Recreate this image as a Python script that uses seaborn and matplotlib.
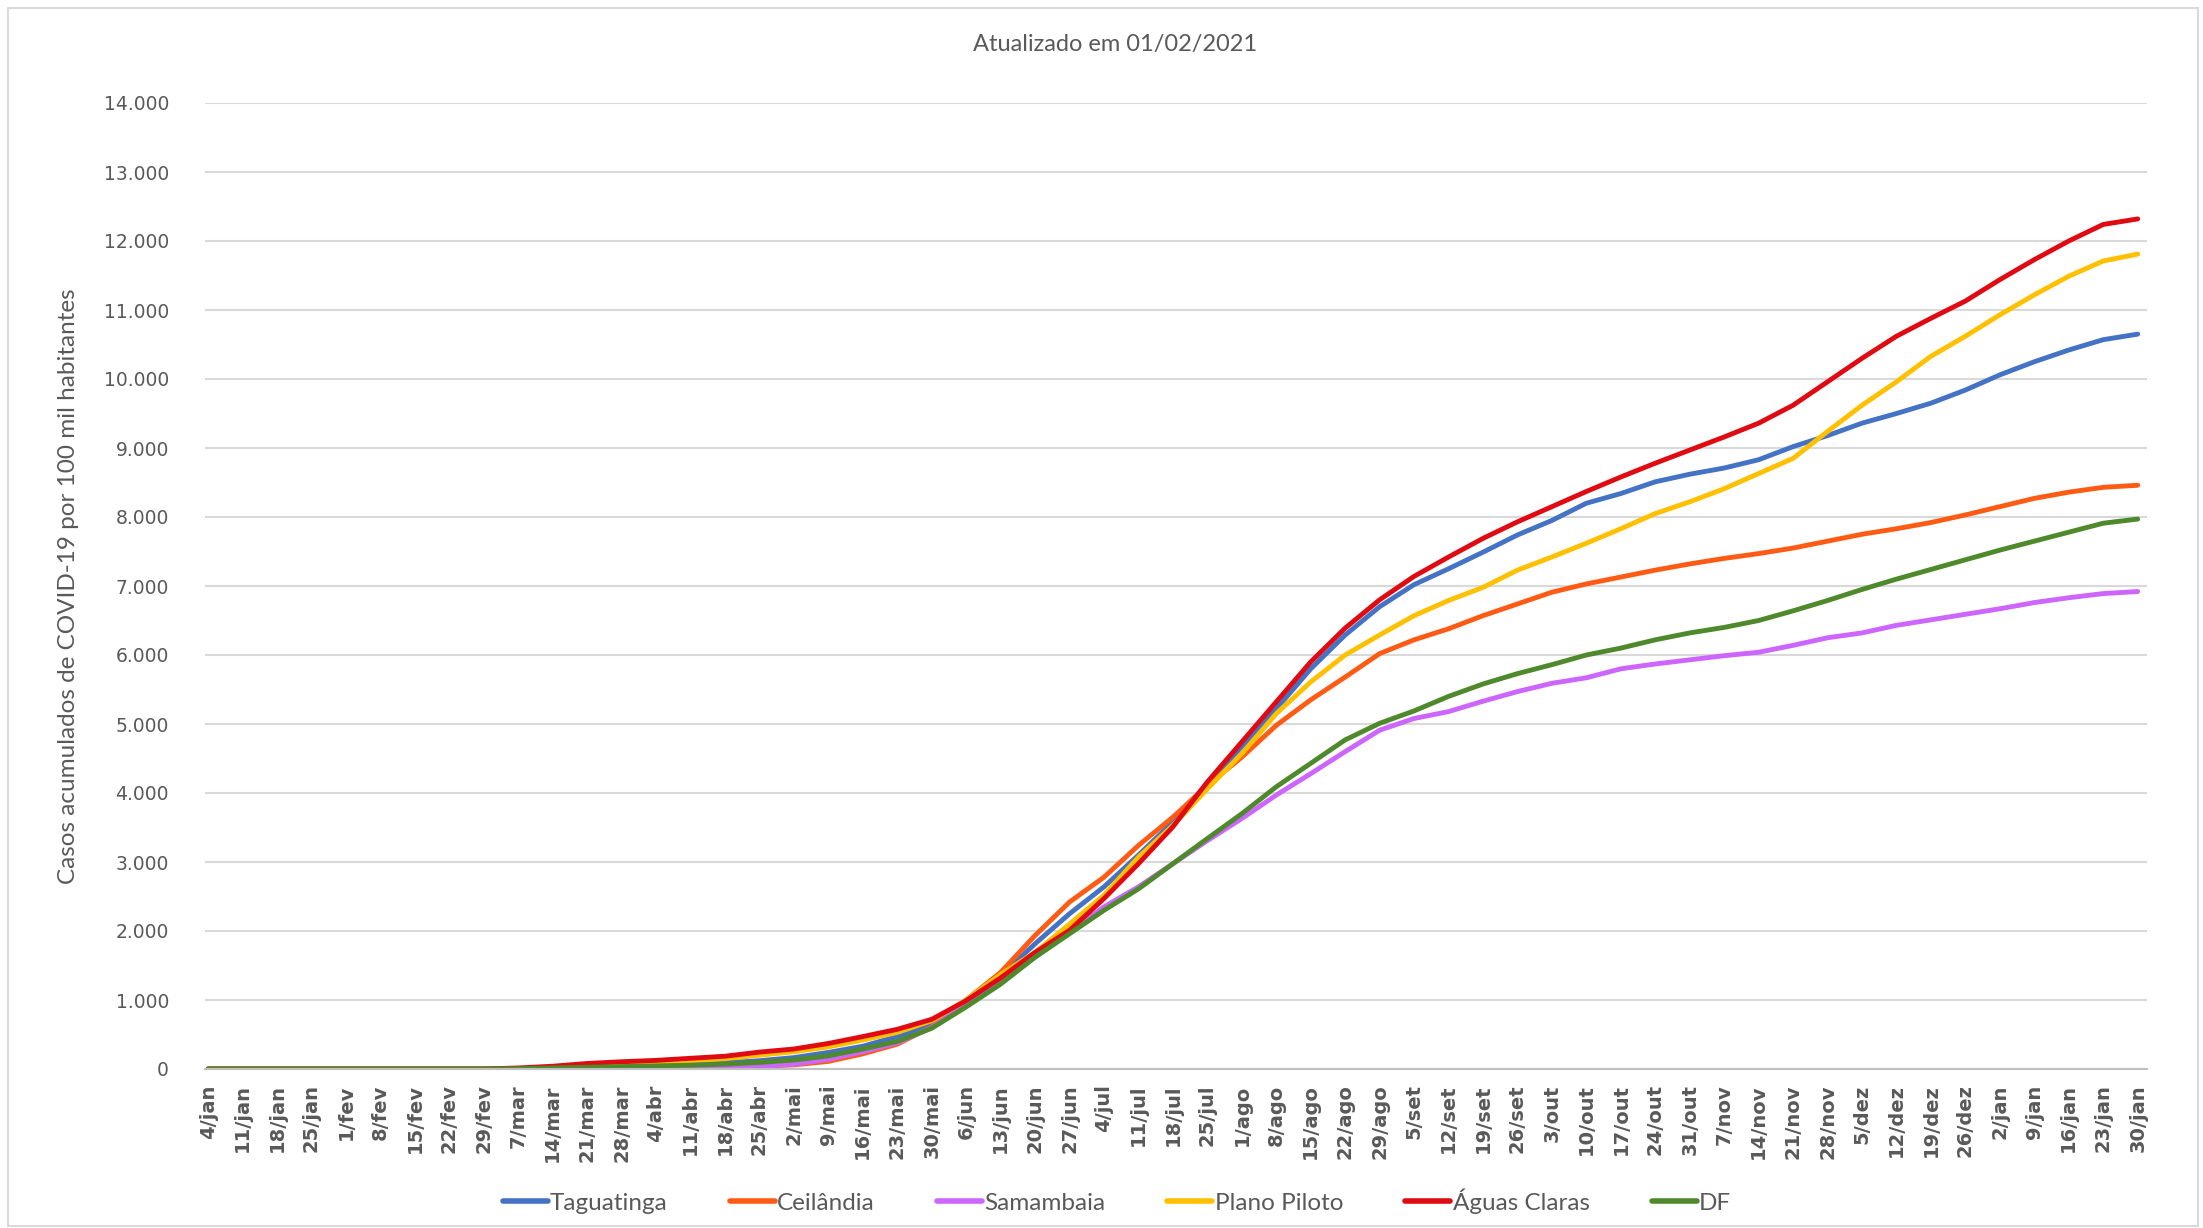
import pandas as pd
import seaborn as sns
import matplotlib.pyplot as plt
from matplotlib.patches import Rectangle

# Weekly tick labels (2020-01-04 .. 2021-01-30)
semanas = ["4/jan", "11/jan", "18/jan", "25/jan", "1/fev", "8/fev", "15/fev", "22/fev", "29/fev",
           "7/mar", "14/mar", "21/mar", "28/mar", "4/abr", "11/abr", "18/abr", "25/abr",
           "2/mai", "9/mai", "16/mai", "23/mai", "30/mai", "6/jun", "13/jun", "20/jun", "27/jun",
           "4/jul", "11/jul", "18/jul", "25/jul", "1/ago", "8/ago", "15/ago", "22/ago", "29/ago",
           "5/set", "12/set", "19/set", "26/set", "3/out", "10/out", "17/out", "24/out", "31/out",
           "7/nov", "14/nov", "21/nov", "28/nov", "5/dez", "12/dez", "19/dez", "26/dez",
           "2/jan", "9/jan", "16/jan", "23/jan", "30/jan"]

zeros = [0] * 9

taguatinga = zeros + [0, 10, 25, 40, 55, 70, 90, 120, 165, 240, 330, 470, 640, 950, 1350,
                      1815, 2250, 2640, 3100, 3580, 4140, 4670, 5220, 5800, 6290, 6700, 7020,
                      7250, 7490, 7740, 7950, 8200, 8340, 8510, 8620, 8710, 8830, 9020, 9180,
                      9360, 9500, 9650, 9840, 10060, 10250, 10420, 10570, 10650]

ceilandia = zeros + [0, 2, 5, 10, 15, 20, 25, 40, 60, 110, 220, 360, 610, 1000, 1400,
                     1935, 2420, 2780, 3240, 3650, 4110, 4520, 4980, 5350, 5680, 6020, 6220,
                     6380, 6570, 6740, 6910, 7030, 7130, 7230, 7320, 7400, 7470, 7550, 7650,
                     7750, 7830, 7920, 8030, 8150, 8270, 8360, 8430, 8460]

samambaia = zeros + [0, 0, 5, 5, 10, 15, 20, 35, 70, 140, 250, 380, 600, 950, 1280,
                     1620, 1980, 2350, 2640, 2975, 3310, 3630, 3970, 4280, 4600, 4910, 5080,
                     5180, 5330, 5470, 5590, 5670, 5800, 5870, 5930, 5990, 6040, 6140, 6250,
                     6320, 6430, 6510, 6590, 6670, 6760, 6830, 6890, 6920]

plano_piloto = zeros + [0, 25, 60, 80, 100, 120, 150, 200, 250, 320, 420, 530, 700, 1000, 1370,
                        1690, 2100, 2520, 3070, 3530, 4060, 4570, 5150, 5610, 6000, 6290, 6570,
                        6790, 6980, 7230, 7420, 7620, 7830, 8050, 8220, 8410, 8630, 8850, 9240,
                        9620, 9960, 10330, 10620, 10930, 11220, 11490, 11710, 11810]

aguas_claras = zeros + [15, 40, 80, 105, 125, 155, 185, 245, 290, 370, 470, 575, 720, 990, 1320,
                        1690, 2010, 2470, 2975, 3510, 4160, 4740, 5320, 5900, 6390, 6800, 7140,
                        7420, 7690, 7930, 8150, 8370, 8580, 8780, 8970, 9160, 9360, 9620, 9960,
                        10300, 10620, 10880, 11130, 11440, 11730, 12000, 12240, 12320]

df_total = zeros + [5, 15, 25, 35, 45, 55, 70, 95, 130, 190, 290, 400, 590, 900, 1230,
                    1620, 1960, 2300, 2610, 2975, 3340, 3700, 4090, 4430, 4770, 5010, 5190,
                    5400, 5580, 5730, 5860, 6000, 6100, 6220, 6320, 6400, 6500, 6640, 6790,
                    6950, 7100, 7240, 7380, 7520, 7650, 7780, 7910, 7970]

series = {
    "Taguatinga": taguatinga,
    "Ceilândia": ceilandia,
    "Samambaia": samambaia,
    "Plano Piloto": plano_piloto,
    "Águas Claras": aguas_claras,
    "DF": df_total,
}
cores = {
    "Taguatinga": "#4472C4",
    "Ceilândia": "#FF5B14",
    "Samambaia": "#CC66FF",
    "Plano Piloto": "#FFC000",
    "Águas Claras": "#E00A12",
    "DF": "#4E8A2C",
}

# long format for seaborn
linhas = []
for nome, vals in series.items():
    for i, v in enumerate(vals):
        linhas.append({"semana": i, "casos": v, "local": nome})
dados = pd.DataFrame(linhas)

sns.set_style("white")
plt.rcParams['font.family'] = ['DejaVu Sans']
fonte_calibri = ['Lato', 'DejaVu Sans']
cinza = "#595959"

fig = plt.figure(figsize=(22.03, 12.28), dpi=100)
ax = fig.add_axes([205 / 2203, 1 - 1069 / 1228, (2147 - 205) / 2203, (1069 - 103) / 1228])

sns.lineplot(data=dados, x="semana", y="casos", hue="local", palette=cores,
             hue_order=list(series.keys()), linewidth=3.5, ax=ax, legend=False)

ax.set_xlim(-0.09, 56.27)
ax.set_ylim(0, 14000)
ax.set_yticks(range(0, 14001, 1000))
ax.set_yticklabels(["0"] + [f"{v // 1000}.000" for v in range(1000, 14001, 1000)],
                   color=cinza, fontsize=13.5)
ax.set_xticks(range(len(semanas)))
ax.set_xticklabels(semanas, rotation=90, fontsize=14, fontweight='bold', color=cinza)
ax.tick_params(axis='x', length=7, width=1.2, color="#BFBFBF", pad=4, direction='out')
ax.tick_params(axis='y', length=0, pad=26)
ax.grid(axis='y', color="#D9D9D9", linewidth=1.5)
ax.set_axisbelow(True)
for s in ["top", "right", "left"]:
    ax.spines[s].set_visible(False)
ax.spines["bottom"].set_color("#BFBFBF")
ax.spines["bottom"].set_linewidth(1.5)
ax.set_xlabel("")
ax.set_ylabel("Casos acumulados de COVID-19 por 100 mil habitantes", family=fonte_calibri,
              fontsize=17.5, color=cinza, labelpad=18)

fig.text(0.506, 1 - 44 / 1228, "Atualizado em 01/02/2021", ha='center', va='center',
         family=fonte_calibri, fontsize=17, color=cinza)

handles = [plt.Line2D([], [], color=cores[n], linewidth=4) for n in series]
fig.legend(handles, list(series.keys()), loc='center', bbox_to_anchor=(0.507, 1 - 1201 / 1228),
           ncol=6, frameon=False, handlelength=1.85, handletextpad=0.1, columnspacing=2.55,
           prop={'family': fonte_calibri, 'size': 17.5}, labelcolor=cinza)

# light chart-area border
fig.patches.append(Rectangle((8 / 2203, 2 / 1228), 2190 / 2203, 1218 / 1228,
                             transform=fig.transFigure, fill=False, edgecolor="#D9D9D9",
                             linewidth=1.5))

fig.savefig("out.png", dpi=100, facecolor="white")
